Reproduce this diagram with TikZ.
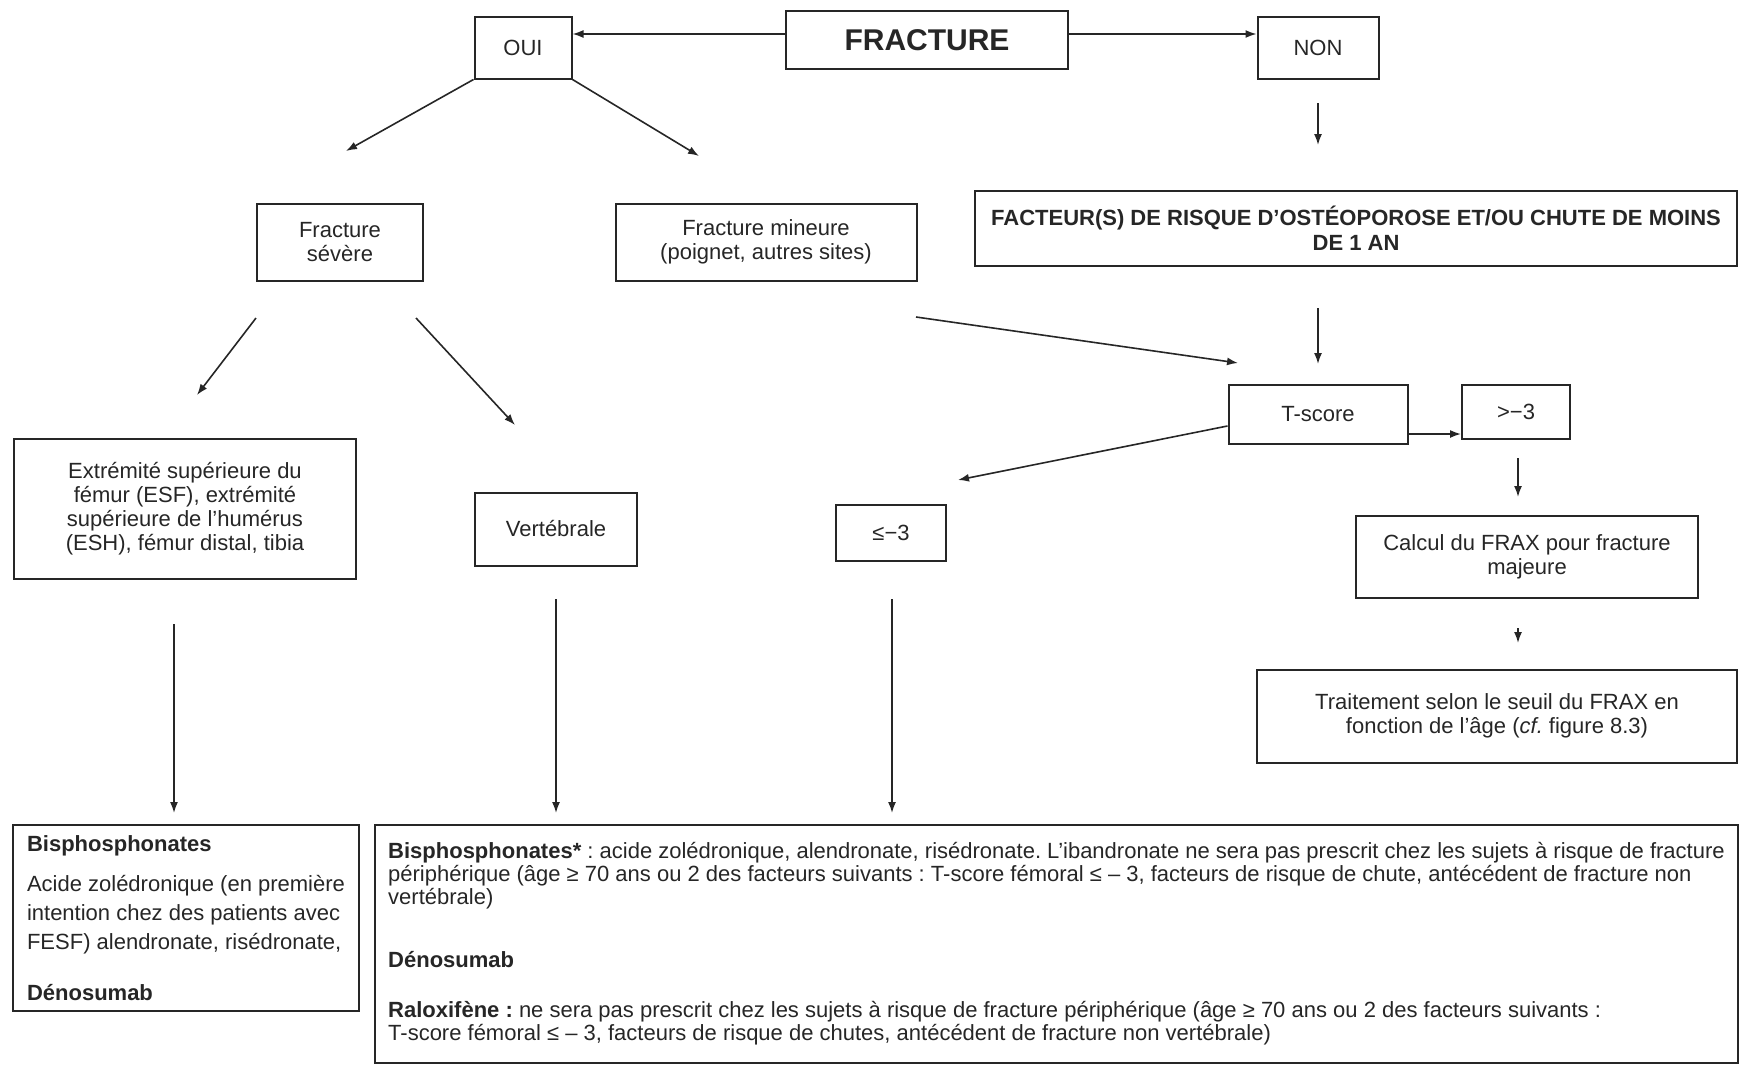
\documentclass[tikz,border=0pt]{standalone}
\usepackage{fontspec}
\setmainfont{Liberation Sans}
\frenchspacing
\usetikzlibrary{arrows.meta}

\tikzstyle{box}=[rectangle,draw=black!85,line width=2pt,inner sep=0pt,align=center,text=black!85,font=\fontsize{22}{24}\selectfont]
\tikzstyle{textbox}=[box,anchor=north west,align=left]
\tikzstyle{link}=[draw=black!85,line width=1.6pt,->]

\begin{document}
\begin{tikzpicture}[x=1pt, y=-1pt, >={Latex[length=11pt,width=8pt]}]
		\useasboundingbox (0,0) rectangle (1739,1065);

		\node [box, minimum width=282pt, minimum height=58pt, font=\fontsize{30}{32}\selectfont\bfseries] (fracture) at (927,40) {FRACTURE};
		\node [box, minimum width=97pt,  minimum height=61pt] (oui)      at (523,48)   {OUI};
		\node [box, minimum width=121pt, minimum height=61pt] (non)      at (1318,48)  {NON};
		\node [box, minimum width=166pt, minimum height=77pt] (severe)   at (340,242)  {Fracture\\sévère};
		\node [box, minimum width=301pt, minimum height=77pt] (mineure)  at (766,242)  {Fracture mineure\\(poignet, autres sites)};
		\node [box, minimum width=762pt, minimum height=75pt, font=\fontsize{22}{25}\selectfont\bfseries] (facteur) at (1356,228) {FACTEUR(S) DE RISQUE D’OSTÉOPOROSE ET/OU CHUTE DE MOINS\\DE 1 AN};
		\node [box, minimum width=179pt, minimum height=59pt] (tscore)   at (1318,414) {T-score};
		\node [box, minimum width=108pt, minimum height=54pt] (sup3)     at (1516,412) {>−3};
		\node [box, minimum width=110pt, minimum height=56pt] (inf3)     at (891,533)  {≤−3};
		\node [box, minimum width=342pt, minimum height=82pt] (frax)     at (1527,557) {Calcul du FRAX pour fracture\\majeure};
		\node [box, minimum width=480pt, minimum height=93pt] (seuil)    at (1497,716) {Traitement selon le seuil du FRAX en\\fonction de l’âge (\textit{cf.} figure 8.3)};
		\node [box, minimum width=342pt, minimum height=140pt] (esf)     at (185,509)  {Extrémité supérieure du\\fémur (ESF), extrémité\\supérieure de l’humérus\\(ESH), fémur distal, tibia};
		\node [box, minimum width=162pt, minimum height=73pt] (vert)     at (556,529)  {Vertébrale};

		\node [textbox, minimum width=346pt, minimum height=186pt, font=\fontsize{22}{29}\selectfont] (traitesf) at (12,824)
			{\textbf{Bisphosphonates}\\[11pt]
			 Acide zolédronique (en première\\
			 intention chez des patients avec\\
			 FESF) alendronate, risédronate,\\[22pt]
			 \textbf{Dénosumab}};
		\node [textbox, minimum width=1363pt, minimum height=238pt, font=\fontsize{22}{23}\selectfont] (traitvert) at (374,824)
			{\textbf{Bisphosphonates*} : acide zolédronique, alendronate, risédronate. L’ibandronate ne sera pas prescrit chez les sujets à risque de fracture\\
			 périphérique (âge ≥ 70 ans ou 2 des facteurs suivants : T-score fémoral ≤ – 3, facteurs de risque de chute, antécédent de fracture non\\
			 vertébrale)\\[40pt]
			 \textbf{Dénosumab}\\[27pt]
			 \textbf{Raloxifène :} ne sera pas prescrit chez les sujets à risque de fracture périphérique (âge ≥ 70 ans ou 2 des facteurs suivants :\\
			 T-score fémoral ≤ – 3, facteurs de risque de chutes, antécédent de fracture non vertébrale)};

		\coordinate (sevtip)  at (346,151);
		\coordinate (mintip)  at (699,156);
		\coordinate (non1)    at (1318,103);
		\coordinate (non2)    at (1318,145);
		\coordinate (fac1)    at (1318,308);
		\coordinate (fac2)    at (1318,364);
		\coordinate (min1)    at (916,317);
		\coordinate (min2)    at (1238,363);
		\coordinate (sev1)    at (256,318);
		\coordinate (sev2)    at (197,395);
		\coordinate (sev3)    at (416,318);
		\coordinate (sev4)    at (515,425);
		\coordinate (inftip)  at (958,480);
		\coordinate (sup1)    at (1518,458);
		\coordinate (sup2)    at (1518,497);
		\coordinate (frax1)   at (1518,628);
		\coordinate (frax2)   at (1518,643);
		\coordinate (esf1)    at (174,624);
		\coordinate (esf2)    at (174,813);
		\coordinate (vert1)   at (556,599);
		\coordinate (vert2)   at (556,813);
		\coordinate (inf1)    at (892,599);
		\coordinate (inf2)    at (892,813);

		\draw [link] ([yshift=6pt]fracture.west) -- ([yshift=6pt]fracture.west -| oui.east);
		\draw [link] ([yshift=6pt]fracture.east) -- ([yshift=6pt]fracture.east -| non.west);
		\draw [link] (oui.south west) -- (sevtip);
		\draw [link] (oui.south east) -- (mintip);
		\draw [link] (non1)    -- (non2);
		\draw [link] (fac1)    -- (fac2);
		\draw [link] (min1)    -- (min2);
		\draw [link] (sev1)    -- (sev2);
		\draw [link] (sev3)    -- (sev4);
		\draw [link] ([yshift=-20pt]tscore.east) -- ([yshift=-20pt]tscore.east -| sup3.west);
		\draw [link] ([yshift=-12pt]tscore.west) -- (inftip);
		\draw [link] (sup1)    -- (sup2);
		\draw [link] (frax1)   -- (frax2);
		\draw [link] (esf1)    -- (esf2);
		\draw [link] (vert1)   -- (vert2);
		\draw [link] (inf1)    -- (inf2);
	\end{tikzpicture}
\end{document}
